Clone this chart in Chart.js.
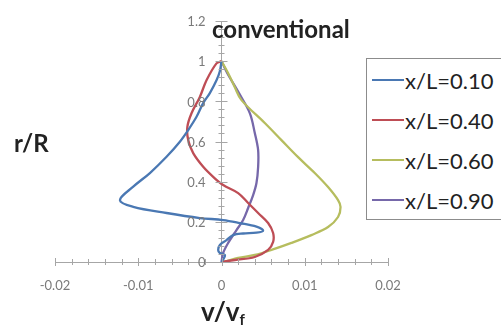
<!DOCTYPE html>
<html>
<head>
<meta charset="utf-8">
<script src="https://cdn.jsdelivr.net/npm/chart.js@4.4.1/dist/chart.umd.min.js"></script>
<style>
  html, body { margin: 0; padding: 0; background: #fff; overflow: hidden; }
  #wrap { position: relative; width: 501px; height: 327px; overflow: hidden; font-family: Lato, "Open Sans", sans-serif; }
  #c { position: absolute; left: 0; top: 0; }
  .lbl { position: absolute; white-space: nowrap; line-height: 1; color: #222; }
  #title { left: 212px; top: 17px; font-size: 24px; font-weight: bold; }
  #ytitle { left: 14px; top: 131px; font-size: 24px; font-weight: bold; }
  #xtitle { left: 201px; top: 298px; font-size: 26px; font-weight: bold; }
  #xtitle sub { font-size: 15px; vertical-align: -4px; }
  #legend { position: absolute; left: 366px; top: 58px; width: 150px; height: 162px; box-sizing: border-box; border: 1px solid #8c8c8c; background: #fff; }
  .item { position: absolute; left: 5px; height: 22px; display: flex; align-items: center; font-size: 22px; color: #222; }
  .item .sw { width: 32px; height: 2.5px; margin-right: 1px; }
</style>
</head>
<body>
<div id="wrap">
  <canvas id="c" width="501" height="327"></canvas>
  <div id="title" class="lbl">conventional</div>
  <div id="ytitle" class="lbl">r/R</div>
  <div id="xtitle" class="lbl">v/v<sub>f</sub></div>
  <div id="legend"></div>
</div>
<script>
// Velocity profiles v/vf against radius r/R at four stations x/L.
const seriesLabels = ['x/L=0.10', 'x/L=0.40', 'x/L=0.60', 'x/L=0.90'];
const seriesColors = ['#4a78b3', '#be4d55', '#b6bd5e', '#7668aa'];

// x/L = 0.10
const r010 = [1, 0.95, 0.905, 0.841, 0.791, 0.723, 0.657, 0.599, 0.524, 0.443, 0.375, 0.308,
              0.275, 0.244, 0.219, 0.209, 0.194, 0.176, 0.156, 0.146, 0.142, 0.134, 0.109,
              0.085, 0.060, 0.045, 0.035, 0.020, 0];
const v010 = [0, -0.0002, -0.0006, -0.0014, -0.0022, -0.0030, -0.0040, -0.0050, -0.0066, -0.0086, -0.0106, -0.0122,
              -0.0106, -0.0066, -0.0026, 0.0002, 0.0022, 0.0042, 0.0050, 0.0042, 0.0026, 0.0014, 0.0006,
              -0.0002, -0.0004, -0.0002, 0.0004, 0.0003, 0];

// x/L = 0.40
const r040 = [1, 0.989, 0.905, 0.822, 0.741, 0.673, 0.607, 0.542, 0.474, 0.424, 0.383, 0.343,
              0.294, 0.244, 0.194, 0.144, 0.100, 0.060, 0.025, 0.010, 0];
const v040 = [0, -0.0006, -0.0018, -0.0026, -0.0036, -0.0041, -0.0040, -0.0034, -0.0022, -0.0010, 0.0002, 0.0020,
              0.0032, 0.0044, 0.0056, 0.0062, 0.0062, 0.0056, 0.0040, 0.0016, 0];

// x/L = 0.60
const r060 = [1, 0.94, 0.87, 0.806, 0.692, 0.607, 0.522, 0.443, 0.373, 0.308, 0.274, 0.224,
              0.174, 0.134, 0.095, 0.060, 0.035, 0.020, 0.002, 0];
const v060 = [0, 0.0008, 0.0016, 0.0024, 0.0052, 0.0072, 0.0092, 0.0112, 0.0128, 0.0140, 0.0143, 0.0140,
              0.0128, 0.0108, 0.0084, 0.0060, 0.0040, 0.0020, 0.0004, 0];

// x/L = 0.90
const r090 = [1, 0.94, 0.841, 0.741, 0.642, 0.557, 0.473, 0.393, 0.333, 0.269, 0.209, 0.159, 0.095, 0.045, 0];
const v090 = [0, 0.0007, 0.0021, 0.0034, 0.0040, 0.0044, 0.0044, 0.0042, 0.0038, 0.0032, 0.0026, 0.0018, 0.0008, 0.0002, 0];

// Axis tick labels and minor tick spacing
const xTickValues = [-0.02, -0.01, 0, 0.01, 0.02];
const yTickValues = [0, 0.2, 0.4, 0.6, 0.8, 1, 1.2];
const xMinorStep = 0.002;
const yMinorStep = 0.04;

const seriesV = [v010, v040, v060, v090];
const seriesR = [r010, r040, r060, r090];

function toPoints(v, r) { return v.map((x, i) => ({ x: x, y: r[i] })); }

const datasets = seriesLabels.map((label, i) => ({
  label: label,
  data: toPoints(seriesV[i], seriesR[i]),
  borderColor: seriesColors[i],
  backgroundColor: seriesColors[i],
  borderWidth: 2.3,
  showLine: true,
  pointRadius: 0,
  tension: 0.35,
  fill: false
}));

function fmt(v) { return String(Number(v.toFixed(3))); }

const tickFont = { family: 'Lato, "Open Sans", sans-serif', size: 13 };
const tickColor = '#7a7a7a';

// Tick marks that straddle the axis lines, plus the r/R labels beside the centred axis
const crossTicks = {
  id: 'crossTicks',
  afterDatasetsDraw(chart) {
    const ctx = chart.ctx;
    const xs = chart.scales.x, ys = chart.scales.y;
    const x0 = xs.getPixelForValue(0), y0 = ys.getPixelForValue(0);
    ctx.save();
    ctx.strokeStyle = '#a6a6a6';
    ctx.lineWidth = 1;
    ctx.beginPath();
    const nx = Math.round((xs.max - xs.min) / xMinorStep);
    for (let i = 0; i <= nx; i++) {
      const v = xs.min + i * xMinorStep;
      const major = Math.abs(v / 0.01 - Math.round(v / 0.01)) < 1e-6;
      const h = major ? 4 : 3;
      const px = Math.round(xs.getPixelForValue(v)) + 0.5;
      ctx.moveTo(px, y0 - h); ctx.lineTo(px, y0 + h);
    }
    const ny = Math.round((ys.max - ys.min) / yMinorStep);
    for (let i = 0; i <= ny; i++) {
      const v = ys.min + i * yMinorStep;
      const major = Math.abs(v / 0.2 - Math.round(v / 0.2)) < 1e-6;
      const w = major ? 6 : 3;
      const py = Math.round(ys.getPixelForValue(v)) + 0.5;
      ctx.moveTo(x0 - w, py); ctx.lineTo(x0 + w, py);
    }
    ctx.stroke();

    ctx.fillStyle = tickColor;
    ctx.font = tickFont.size + 'px ' + tickFont.family;
    ctx.textAlign = 'right';
    ctx.textBaseline = 'middle';
    yTickValues.forEach(v => {
      ctx.fillText(fmt(v), x0 - 16, ys.getPixelForValue(v) + 1);
    });
    ctx.restore();
  }
};

new Chart(document.getElementById('c'), {
  type: 'scatter',
  data: { datasets: datasets },
  plugins: [crossTicks],
  options: {
    responsive: false,
    animation: false,
    layout: { padding: { left: 55, right: 113, top: 21, bottom: 65 } },
    plugins: { legend: { display: false }, tooltip: { enabled: false }, title: { display: false } },
    scales: {
      x: {
        type: 'linear',
        min: -0.02, max: 0.02,
        position: { y: 0 },
        afterFit(s) { s.height = 0; },
        afterBuildTicks(s) { s.ticks = xTickValues.map(v => ({ value: v })); },
        grid: { display: false, drawTicks: false },
        border: { display: true, color: '#a6a6a6', width: 1 },
        ticks: { padding: 16, color: tickColor, font: tickFont, maxRotation: 0, callback: v => fmt(v) }
      },
      y: {
        type: 'linear',
        min: 0, max: 1.2,
        position: { x: 0 },
        afterFit(s) { s.width = 0; },
        afterBuildTicks(s) { s.ticks = yTickValues.map(v => ({ value: v })); },
        grid: { display: false, drawTicks: false },
        border: { display: true, color: '#a6a6a6', width: 1 },
        ticks: { display: false }
      }
    }
  }
});

// Legend entries built from the same series labels and colours
const legend = document.getElementById('legend');
seriesLabels.forEach((label, i) => {
  const item = document.createElement('div');
  item.className = 'item';
  item.style.top = (10 + i * 40) + 'px';
  const sw = document.createElement('span');
  sw.className = 'sw';
  sw.style.background = seriesColors[i];
  const tx = document.createElement('span');
  tx.textContent = label;
  item.appendChild(sw);
  item.appendChild(tx);
  legend.appendChild(item);
});
</script>
</body>
</html>
